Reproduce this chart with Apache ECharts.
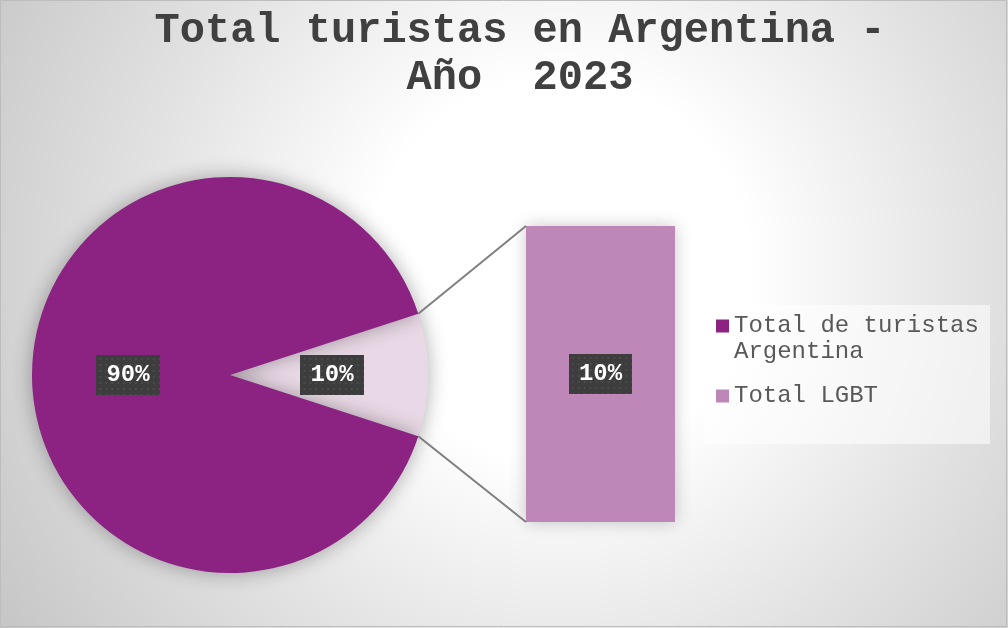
<!DOCTYPE html>
<html>
<head>
<meta charset="utf-8">
<title>Total turistas en Argentina - Año 2023</title>
<script src="https://cdn.jsdelivr.net/npm/echarts@6/dist/echarts.min.js"></script>
<style>
  html, body { margin: 0; padding: 0; background: #fff; }
  #chart { width: 1008px; height: 628px; }
</style>
</head>
<body>
<div id="chart"></div>
<script>
// Chart data
const categories = ['Total de turistas Argentina', 'Total LGBT'];
const shares = [90, 10];          // percent of total tourists
const barCategories = ['Total LGBT'];
const barValues = [10];           // breakdown of the "other" slice
// leading blank line keeps the first text line level with the legend swatch
const legendLabels = ['\nTotal de turistas\nArgentina', 'Total LGBT'];

const MONO = '"Liberation Mono", "DejaVu Sans Mono", monospace';
const C_MAIN = '#8C2382';
const C_OTHER_SLICE = '#E9D9E6';
const C_BAR = '#BD87B7';

// Dotted dark tile used behind the data labels
function dottedTile(w, h) {
  const c = document.createElement('canvas');
  c.width = w; c.height = h;
  const g = c.getContext('2d');
  g.fillStyle = '#3d3d3d';
  g.fillRect(0, 0, w, h);
  g.fillStyle = '#4b4b4b';
  for (let y = 3; y < h; y += 6) {
    for (let x = 3; x < w; x += 6) {
      g.fillRect(x, y, 2, 2);
    }
  }
  return c;
}
const tile = dottedTile(64, 40);

const labelBox = {
  color: '#ffffff',
  fontFamily: MONO,
  fontWeight: 'bold',
  fontSize: 24,
  lineHeight: 28,
  padding: [6, 10],
  backgroundColor: { image: tile },
  shadowColor: 'rgba(0,0,0,0.55)',
  shadowBlur: 6,
  shadowOffsetX: 3,
  shadowOffsetY: 3
};

const total = shares[0] + shares[1];
// the "other" slice is centred on the horizontal axis, facing the bar
const startAngle = shares[1] / total * 180;

const chart = echarts.init(document.getElementById('chart'), null, { renderer: 'canvas' });

const option = {
  backgroundColor: {
    type: 'radial', x: 0.555, y: 0.43, r: 1.08,
    colorStops: [
      { offset: 0, color: '#ffffff' },
      { offset: 0.28, color: '#ffffff' },
      { offset: 0.62, color: '#e2e2e2' },
      { offset: 1, color: '#c4c4c4' }
    ]
  },
  animation: false,
  title: {
    text: 'Total turistas en Argentina -\nAño  2023',
    left: 515,
    top: 3,
    textAlign: 'center',
    textStyle: {
      fontFamily: MONO,
      fontSize: 42,
      fontWeight: 'bold',
      color: '#404040',
      lineHeight: 47
    }
  },
  legend: {
    orient: 'vertical',
    left: 716,
    top: 287,
    padding: 0,
    itemWidth: 13,
    itemHeight: 13,
    itemGap: 18,
    icon: 'rect',
    selectedMode: false,
    formatter: function (name) {
      return legendLabels[categories.indexOf(name)];
    },
    textStyle: {
      fontFamily: MONO,
      fontSize: 24,
      lineHeight: 26,
      color: '#595959'
    },
    data: [
      { name: categories[0], itemStyle: { color: C_MAIN } },
      { name: categories[1], itemStyle: { color: C_BAR } }
    ]
  },
  grid: { left: 526, top: 226, width: 149, height: 296 },
  xAxis: { type: 'category', data: barCategories, show: false },
  yAxis: { type: 'value', min: 0, max: barValues[0], show: false },
  series: [
    {
      type: 'pie',
      center: [230, 375],
      radius: 198,
      startAngle: startAngle,
      clockwise: true,
      silent: true,
      itemStyle: {
        shadowBlur: 20,
        shadowColor: 'rgba(0,0,0,0.32)'
      },
      label: Object.assign({
        position: 'inner',
        formatter: function (p) { return Math.round(p.percent) + '%'; }
      }, labelBox),
      labelLine: { show: false },
      data: [
        { name: categories[1], value: shares[1], itemStyle: { color: C_OTHER_SLICE } },
        { name: categories[0], value: shares[0], itemStyle: { color: C_MAIN } }
      ]
    },
    {
      type: 'bar',
      name: categories[1],
      barWidth: '100%',
      silent: true,
      itemStyle: {
        color: C_BAR,
        shadowBlur: 16,
        shadowColor: 'rgba(0,0,0,0.22)'
      },
      label: Object.assign({
        show: true,
        position: 'inside',
        formatter: function (p) { return p.value + '%'; }
      }, labelBox),
      data: barValues
    }
  ]
};

chart.setOption(option);

// Connector lines from the edges of the "other" slice to the bar corners
function connectors() {
  const pieLayout = chart.getModel().getSeriesByIndex(0).getData().getItemLayout(0);
  const barLayout = chart.getModel().getSeriesByIndex(1).getData().getItemLayout(0);
  const cx = pieLayout.cx, cy = pieLayout.cy, r = pieLayout.r;
  const a0 = pieLayout.startAngle, a1 = pieLayout.endAngle;
  const p0 = [cx + r * Math.cos(a0), cy + r * Math.sin(a0)];
  const p1 = [cx + r * Math.cos(a1), cy + r * Math.sin(a1)];
  const bx = barLayout.x;
  const yA = barLayout.y, yB = barLayout.y + barLayout.height;
  const top = Math.min(yA, yB), bottom = Math.max(yA, yB);
  const upper = p0[1] < p1[1] ? p0 : p1;
  const lower = p0[1] < p1[1] ? p1 : p0;
  const lineStyle = { stroke: '#7f7f7f', lineWidth: 2 };
  chart.setOption({
    graphic: [
      { type: 'rect', silent: true, z: -1,
        shape: { x: 704, y: 305, width: 286, height: 139 },
        style: { fill: 'rgba(255,255,255,0.55)' } },
      { type: 'line', silent: true, z: 10,
        shape: { x1: upper[0], y1: upper[1], x2: bx, y2: top }, style: lineStyle },
      { type: 'line', silent: true, z: 10,
        shape: { x1: lower[0], y1: lower[1], x2: bx, y2: bottom }, style: lineStyle },
      { type: 'rect', silent: true, z: 20,
        shape: { x: 0.5, y: 0.5, width: 1006, height: 626 },
        style: { fill: null, stroke: '#bdbdbd', lineWidth: 1 } }
    ]
  });
}
connectors();
</script>
</body>
</html>
